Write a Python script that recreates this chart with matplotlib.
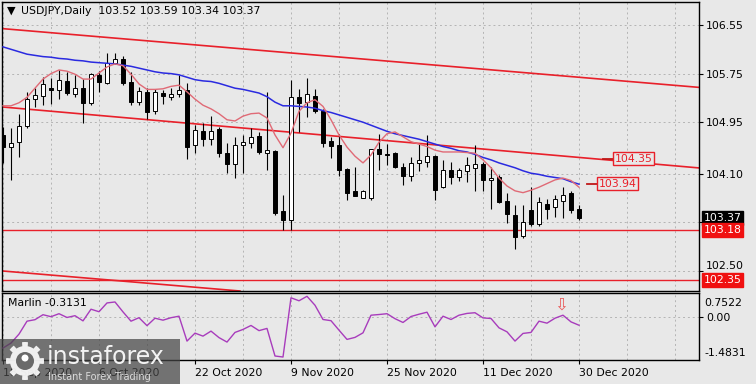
import numpy as np
import matplotlib.pyplot as plt
from matplotlib.patches import Rectangle, Polygon, Circle
import matplotlib.transforms as mtransforms

# ---- data (one value per daily bar) ----
symbol = "USDJPY"
opens = [104.74, 104.54, 104.62, 104.88, 105.34, 105.38, 105.51, 105.48, 105.63, 105.41,
         105.51, 105.26, 105.73, 105.60, 105.93, 105.99, 105.62, 105.29, 105.45, 105.13,
         105.43, 105.36, 105.41, 105.48, 104.58, 104.81, 104.67, 104.83, 104.45, 104.27,
         104.57, 104.60, 104.72, 104.45, 104.48, 103.48, 103.34, 105.36, 105.28, 105.38,
         105.14, 104.64, 104.57, 104.18, 103.81, 103.71, 103.70, 104.51, 104.43, 104.44,
         104.22, 104.06, 104.28, 104.30, 104.39, 103.89, 104.16, 104.05, 104.14, 104.19,
         104.27, 104.00, 104.05, 103.66, 103.42, 103.08, 103.50, 103.27, 103.61, 103.55,
         103.65, 103.78, 103.52]
highs = [104.87, 104.85, 105.08, 105.45, 105.51, 105.69, 105.67, 105.81, 105.78, 105.73,
         105.66, 105.76, 105.80, 106.09, 106.09, 106.04, 105.78, 105.53, 105.51, 105.49,
         105.48, 105.51, 105.73, 105.59, 104.90, 104.94, 105.05, 104.87, 104.60, 104.71,
         104.74, 104.85, 104.79, 105.45, 104.50, 103.75, 105.64, 105.49, 105.67, 105.49,
         105.16, 104.71, 104.75, 104.20, 104.22, 103.84, 104.51, 104.76, 104.59, 104.46,
         104.28, 104.38, 104.59, 104.74, 104.41, 104.33, 104.30, 104.20, 104.38, 104.57,
         104.30, 104.22, 104.08, 103.78, 103.59, 103.59, 103.89, 103.72, 103.68, 103.75,
         103.89, 103.81, 103.59]
lows = [104.28, 104.00, 104.38, 104.85, 105.20, 105.23, 105.25, 105.34, 105.40, 105.37,
        104.93, 105.24, 105.45, 105.58, 105.91, 105.56, 105.23, 105.23, 105.01, 105.08,
        105.25, 105.32, 105.36, 104.34, 104.45, 104.56, 104.57, 104.37, 104.11, 104.03,
        104.12, 104.52, 104.43, 104.16, 103.42, 103.18, 103.17, 104.79, 105.04, 105.10,
        104.55, 104.36, 104.07, 103.67, 103.74, 103.70, 103.67, 104.16, 104.25, 104.19,
        103.92, 103.99, 104.14, 104.22, 103.67, 103.86, 103.94, 103.98, 103.97, 103.81,
        103.81, 103.52, 103.62, 103.29, 102.87, 103.04, 103.24, 103.24, 103.35, 103.39,
        103.38, 103.45, 103.34]
closes = [104.54, 104.60, 104.89, 105.34, 105.40, 105.58, 105.48, 105.64, 105.43, 105.51,
          105.27, 105.74, 105.62, 105.93, 105.99, 105.59, 105.29, 105.47, 105.12, 105.44,
          105.38, 105.41, 105.48, 104.55, 104.82, 104.68, 104.81, 104.45, 104.27, 104.57,
          104.63, 104.71, 104.46, 104.50, 103.45, 103.34, 105.36, 105.26, 105.41, 105.13,
          104.60, 104.56, 104.16, 103.78, 103.74, 103.82, 104.51, 104.43, 104.41, 104.21,
          104.06, 104.28, 104.32, 104.39, 103.83, 104.17, 104.05, 104.17, 104.25, 104.27,
          104.00, 104.03, 103.64, 103.44, 103.06, 103.30, 103.27, 103.64, 103.52, 103.68,
          103.75, 103.50, 103.37]

# slow moving average (blue) and fast moving average (pink)
ma_slow = [106.19, 106.15, 106.11, 106.07, 106.05, 106.03, 106.02, 106.00, 105.99, 105.97,
           105.96, 105.94, 105.93, 105.92, 105.91, 105.89, 105.87, 105.84, 105.81, 105.78,
           105.76, 105.75, 105.73, 105.69, 105.65, 105.63, 105.62, 105.59, 105.55, 105.51,
           105.49, 105.46, 105.43, 105.37, 105.28, 105.22, 105.22, 105.21, 105.20, 105.18,
           105.14, 105.11, 105.07, 105.03, 104.99, 104.95, 104.90, 104.85, 104.80, 104.76,
           104.73, 104.70, 104.67, 104.63, 104.59, 104.55, 104.52, 104.48, 104.46, 104.42,
           104.37, 104.33, 104.28, 104.24, 104.20, 104.15, 104.11, 104.09, 104.06, 104.04,
           104.02, 103.97, 103.93]
ma_fast = [105.22, 105.22, 105.27, 105.36, 105.51, 105.66, 105.75, 105.81, 105.79, 105.74,
           105.66, 105.66, 105.76, 105.86, 105.91, 105.88, 105.74, 105.58, 105.49, 105.49,
           105.50, 105.54, 105.56, 105.45, 105.33, 105.23, 105.17, 105.09, 104.99, 104.97,
           105.05, 105.09, 105.10, 105.02, 104.74, 104.53, 104.77, 105.13, 105.27, 105.32,
           105.21, 104.99, 104.74, 104.54, 104.39, 104.28, 104.41, 104.62, 104.76, 104.79,
           104.71, 104.63, 104.59, 104.55, 104.49, 104.46, 104.46, 104.46, 104.45, 104.44,
           104.33, 104.20, 104.03, 103.90, 103.82, 103.79, 103.83, 103.88, 103.94, 104.00,
           104.03, 103.99, 103.88]

marlin = [-1.153, -0.970, -0.640, -0.164, -0.109, 0.074, 0.001, 0.111, -0.028, 0.038,
          -0.153, 0.276, 0.184, 0.507, 0.543, 0.177, -0.164, -0.036, -0.329, -0.054,
          -0.127, -0.036, 0.019, -0.897, -0.604, -0.714, -0.530, -0.769, -0.933, -0.578,
          -0.468, -0.322, -0.512, -0.431, -1.446, -1.4831, 0.697, 0.587, 0.7522, 0.422,
          -0.102, -0.146, -0.494, -0.835, -0.761, -0.593, 0.056, 0.081, 0.111, -0.072,
          -0.212, 0.008, 0.092, 0.166, -0.373, 0.019, -0.102, 0.056, 0.122, 0.147,
          -0.043, -0.065, -0.409, -0.556, -0.897, -0.615, -0.578, -0.164, -0.237, -0.054,
          0.056, -0.190, -0.3131]

date_bars = [0, 12, 24, 36, 48, 60, 72]
date_labels = ["18 Sep 2020", "6 Oct 2020", "22 Oct 2020", "9 Nov 2020",
               "25 Nov 2020", "11 Dec 2020", "30 Dec 2020"]

# analyst trend lines: two anchor bars and prices
trend_bars = [0, 72]
trend_upper = [106.49, 105.69]
trend_mid = [105.20, 104.37]
trend_low = [102.50, 101.70]
levels = [103.18, 102.35]
level_mid, level_blue = 104.35, 103.94

price_grid = [106.55, 105.75, 104.95, 104.10, 103.30, 102.50]
price_grid_labels = ["106.55", "105.75", "104.95", "104.10", "", "102.50"]

# ---- style ----
BG = "#e8e8e8"
RED = "#e8202a"
GRID = "#b4b4b4"
plt.rcParams['font.family'] = ['DejaVu Sans']
FS = 7.8

W, H = 756, 384
def fx(px):
    return px / W
def fy(py):
    return 1 - py / H

o = np.array(opens); h = np.array(highs); l = np.array(lows); c = np.array(closes)
bars = np.arange(len(c))

fig = plt.figure(figsize=(W / 100, H / 100), dpi=100, facecolor=BG)
ax = fig.add_axes([fx(2), fy(291), fx(699) - fx(2), fy(2) - fy(291)], facecolor=BG)
ax2 = fig.add_axes([fx(2), fy(360), fx(699) - fx(2), fy(293) - fy(360)], facecolor=BG)

xlim = (-0.125, 87)
for a in (ax, ax2):
    a.set_xlim(*xlim)
    for s in a.spines.values():
        s.set_color("black")
        s.set_linewidth(1.0)
    for k in range(0, 90, 6):
        a.axvline(k, color=GRID, lw=0.7, ls=(0, (2, 3)), zorder=0)

# ---- main panel ----
ax.set_ylim(102.171, 106.929)
for p in price_grid:
    ax.axhline(p, color=GRID, lw=0.7, ls=(0, (2, 3)), zorder=0)

ax.axline((trend_bars[0], trend_upper[0]), (trend_bars[1], trend_upper[1]), color=RED, lw=1.2, zorder=1)
ax.axline((trend_bars[0], trend_mid[0]), (trend_bars[1], trend_mid[1]), color=RED, lw=1.2, zorder=1)
ax.axline((trend_bars[0], trend_low[0]), (trend_bars[1], trend_low[1]), color=RED, lw=1.2, zorder=1)
for lv in levels:
    ax.axhline(lv, color=RED, lw=1.0, zorder=1)

ax.plot(bars, ma_slow, color="#2a2ae0", lw=1.1, zorder=4)
ax.plot(bars, ma_fast, color="#e06a76", lw=1.0, zorder=4)

up = c >= o
ax.vlines(bars, l, h, color="black", lw=0.8, zorder=2)
body_low = np.minimum(o, c)
body_h = np.maximum(np.abs(c - o), 0.012)
ax.bar(bars, body_h, bottom=body_low, width=0.62,
       color=np.where(up, "white", "black"), edgecolor="black", linewidth=0.7, zorder=3)

# labelled trend values
ax.plot([75.0, 76.3], [level_mid, level_mid], color="#c01818", lw=1.3, zorder=5)
ax.text(76.45, level_mid, f"{level_mid:.2f}", color=RED, fontsize=FS, va="center", ha="left",
        bbox=dict(boxstyle="square,pad=0.12", fc=BG, ec=RED, lw=1.0), zorder=6)
ax.plot([73.0, 74.3], [level_blue, level_blue], color="#c01818", lw=1.3, zorder=5)
ax.text(74.45, level_blue, f"{level_blue:.2f}", color=RED, fontsize=FS, va="center", ha="left",
        bbox=dict(boxstyle="square,pad=0.12", fc=BG, ec=RED, lw=1.0), zorder=6)

ax.set_xticks([])
ax.yaxis.tick_right()
ax.set_yticks(price_grid)
ax.set_yticklabels(price_grid_labels)
ax.tick_params(axis="y", length=3, width=0.8, pad=2, labelsize=FS, colors="black")
# the 102.50 label sits just above the 102.35 box, as on the terminal
ax.get_yticklabels()[-1].set_va("bottom")

# right axis boxes
tr = mtransforms.blended_transform_factory(ax.transAxes, ax.transData)
ax.text(1.0065, c[-1], f"{c[-1]:.2f}", transform=tr, color="white", fontsize=FS, va="center",
        ha="left", bbox=dict(boxstyle="square,pad=0.18", fc="black", ec="black"), zorder=7, clip_on=False)
for lv in levels:
    ax.text(1.0065, lv, f"{lv:.2f}", transform=tr, color="white", fontsize=FS, va="center",
            ha="left", bbox=dict(boxstyle="square,pad=0.18", fc="#f01010", ec="#f01010"),
            zorder=7, clip_on=False)

# title
fig.text(fx(7), fy(11), "\u25BC", fontsize=8, va="center", ha="left", color="black")
fig.text(fx(21), fy(11), f"{symbol},Daily  {o[-1]:.2f} {h[-1]:.2f} {l[-1]:.2f} {c[-1]:.2f}",
         fontsize=FS, va="center", ha="left", color="black")

# ---- indicator panel ----
mv = np.array(marlin)
ax2.set_ylim(-1.593, 0.873)
ax2.axhline(0, color=GRID, lw=0.7, ls=(0, (2, 3)), zorder=0)
ax2.plot(bars, mv, color="#a83cbc", lw=1.0, zorder=3)
ax2.text(69.8, 0.45, "\u21E9", color="#e85a5a", fontsize=12, ha="center", va="center", zorder=4)
ax2.text(0.008, 0.85, f"Marlin {mv[-1]:.4f}", transform=ax2.transAxes, fontsize=FS,
         va="center", ha="left", color="black")

ax2.yaxis.tick_right()
ax2.set_yticks([0])
ax2.set_yticklabels(["0.00"])
ax2.tick_params(axis="y", length=3, width=0.8, pad=2, labelsize=FS)
ax2.text(1.008, 0.85, f"{mv.max():.4f}", transform=ax2.transAxes, fontsize=FS, va="center", ha="left")
ax2.text(1.008, 0.11, f"{mv.min():.4f}", transform=ax2.transAxes, fontsize=FS, va="center", ha="left")

ax2.set_xticks(date_bars)
ax2.set_xticklabels(date_labels, ha="left")
ax2.tick_params(axis="x", length=3, width=0.8, pad=3, labelsize=FS)

# ---- watermark ----
fig.add_artist(Rectangle((0, 0), fx(180), 45 / H, transform=fig.transFigure,
                         facecolor="#454545", alpha=0.72, edgecolor="none", zorder=10))
ang = np.linspace(0, 2 * np.pi, 241)
rad = np.where(np.cos(8 * ang) > 0.2, 0.19, 0.15)
gear = np.column_stack([0.25 + rad * np.cos(ang), (H - 361) / 100 + rad * np.sin(ang)])
fig.add_artist(Polygon(gear, closed=True, transform=fig.dpi_scale_trans, facecolor="white",
                       edgecolor="none", alpha=0.9, zorder=11))
fig.add_artist(Circle((0.25, (H - 361) / 100), 0.09, transform=fig.dpi_scale_trans,
                      facecolor="#6a6a6a", edgecolor="none", zorder=12))
fig.add_artist(Circle((0.25, (H - 358) / 100), 0.035, transform=fig.dpi_scale_trans,
                      facecolor="white", edgecolor="none", zorder=13))
fig.text(fx(47), fy(357), "instaforex", color="white", fontsize=17, va="center", ha="left",
         alpha=0.92, zorder=12)
fig.text(fx(48), fy(377), "Instant Forex Trading", color="#e6e6e6", fontsize=7, va="center",
         ha="left", alpha=0.9, zorder=12)

fig.savefig("out.png", dpi=100, facecolor=BG)
